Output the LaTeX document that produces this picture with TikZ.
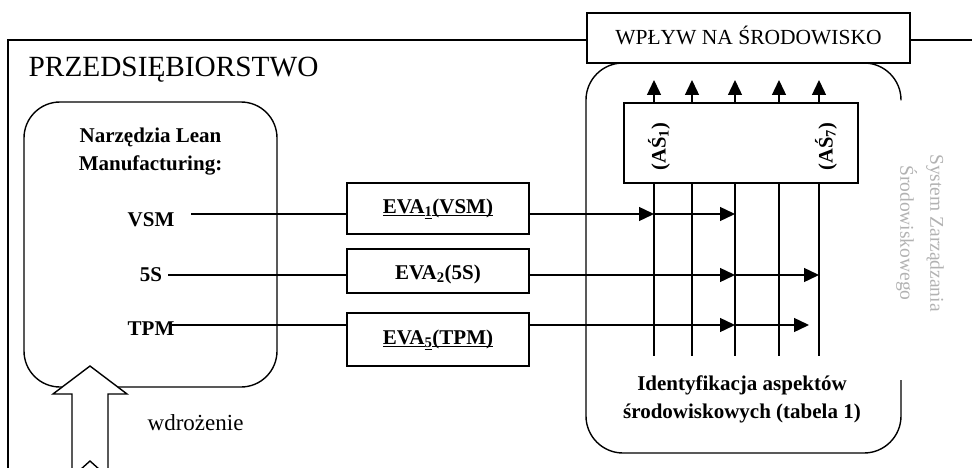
\documentclass[tikz,border=0pt]{standalone}
\usepackage{fontspec}
\setmainfont{Liberation Serif}
\usetikzlibrary{arrows.meta}
\definecolor{sysgray}{gray}{0.7}
% underline at a fixed depth below the baseline
\newcommand{\ulfix}[1]{\setbox0\hbox{#1}\rlap{\rule[-2.8pt]{\wd0}{1.3pt}}\box0}

\begin{document}
\begin{tikzpicture}[x=1pt,y=-1pt,
  line width=1.4pt,
  body/.style={font=\fontsize{21}{28}\selectfont\bfseries},
  flow/.style={-{Triangle[length=15pt,width=14pt]}},
  evabox/.style={draw, minimum width=182pt, inner sep=0pt,
    text height=15pt, text depth=5pt, font=\fontsize{21}{28}\selectfont\bfseries},
  plainbox/.style={draw, inner sep=0pt}
]
\useasboundingbox (0,0) rectangle (972,468);

% impact box and the enterprise frame hanging from it
\node[plainbox, minimum width=323pt, minimum height=50pt,
  text height=13pt, text depth=0pt, font=\fontsize{21.5}{24}\selectfont]
  (impact) at (748.5,38) {WPŁYW NA ŚRODOWISKO};
\coordinate (ftl) at (8,40);
\coordinate (fbl) at (8,468);
\coordinate (fr) at (972,40);
\draw (impact.west |- ftl) -- (ftl) -- (fbl);
\draw (impact.east |- fr) -- (fr);

\node[anchor=base west, inner sep=0pt, font=\fontsize{29.3}{34}\selectfont]
  (firm) at (28,77) {PRZEDSIĘBIORSTWO};

% Lean tools container
\node[draw, rounded corners=36pt, minimum width=253pt, minimum height=285pt]
  (tools) at (150.5,244.5) {};
\node[body, align=center] (lean) at (150.5,152) {Narzędzia Lean\\Manufacturing:};
\node[body, anchor=base] (vsm) at (151,226) {VSM};
\node[body, anchor=base] (fives) at (151,281) {5S};
\node[body, anchor=base] (tpm) at (151,335) {TPM};

% environmental management system container (open on the right for its label)
\draw[rounded corners=37pt] (901,100.5) -- (901,63) -- (586,63) -- (586,453)
  -- (901,453) -- (901,380);
\node[rotate=-90, align=center, text=sysgray, font=\fontsize{19.5}{30}\selectfont]
  (sys) at (920,233) {System Zarządzania\\Środowiskowego};

% environmental aspects block
\node[plainbox, minimum width=234pt, minimum height=80pt] (asp) at (741,143) {};
\node[rotate=90, font=\fontsize{20.5}{24}\selectfont\bfseries] (as1) at (659,146.5) {(AŚ\textsubscript{1})};
\node[rotate=90, font=\fontsize{20.5}{24}\selectfont\bfseries] (as7) at (826,146.5) {(AŚ\textsubscript{7})};
\foreach \i/\x in {1/654,2/692,3/735,4/779,5/819} {
  \coordinate (top\i) at (\x,80);
  \coordinate (bot\i) at (\x,356);
  \draw[flow] (asp.north -| top\i) -- (top\i);
  \draw (asp.south -| bot\i) -- (bot\i);
}
\node[body, align=center] (ident) at (742,399) {Identyfikacja aspektów\\środowiskowych (tabela 1)};

% EVA evaluations
\node[evabox, minimum height=51pt] (eva1) at (438,208.5)
  {\ulfix{EVA}\textsubscript{\ulfix{1}}\ulfix{(VSM)}};
\node[evabox, minimum height=44pt, text height=17pt, text depth=1pt] (eva2) at (438,271)
  {EVA\textsubscript{2}(5S)};
\node[evabox, minimum height=53pt] (eva3) at (438,339.5)
  {\ulfix{EVA}\textsubscript{\ulfix{5}}\ulfix{(TPM)}};

% tool -> evaluation -> aspects
\coordinate (v0) at (191,214);
\coordinate (s0) at (168,275);
\coordinate (t0) at (172,325);
\coordinate (tend) at (809,325);
\draw (v0) -- (v0 -| eva1.west);
\draw[flow] (v0 -| eva1.east) -- (v0 -| top1);
\draw[flow] (v0 -| top1) -- (v0 -| top3);
\draw (s0) -- (s0 -| eva2.west);
\draw[flow] (s0 -| eva2.east) -- (s0 -| top3);
\draw[flow] (s0 -| top3) -- (s0 -| top5);
\draw (t0) -- (t0 -| eva3.west);
\draw[flow] (t0 -| eva3.east) -- (t0 -| top3);
\draw[flow] (t0 -| top3) -- (tend);

% implementation block arrow
\draw[fill=white, line join=miter] (72,470) -- (72,394) -- (53,394) -- (90,366)
  -- (127,394) -- (108,394) -- (108,470);
\draw (80,470) -- (90,461) -- (100,470);
\node[anchor=base west, inner sep=0pt, font=\fontsize{23}{28}\selectfont]
  (impl) at (147,430) {wdrożenie};
\end{tikzpicture}
\end{document}
